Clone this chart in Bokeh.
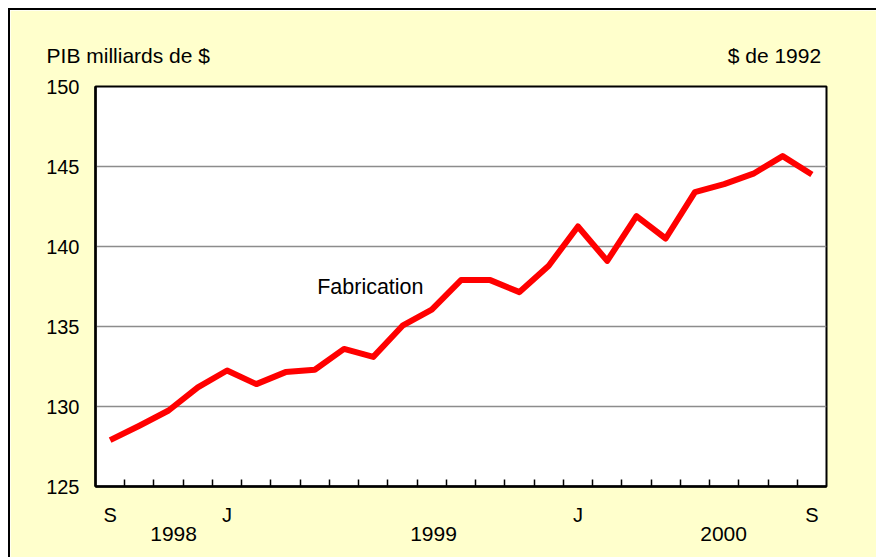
from bokeh.plotting import figure
from bokeh.models import FixedTicker, Label, Range1d, ColumnDataSource, LinearAxis
from bokeh.embed import file_html
from bokeh.resources import INLINE

# ---- data ----
months = ["S", "O", "N", "D",
          "J", "F", "M", "A", "M", "J", "J", "A", "S", "O", "N", "D",
          "J", "F", "M", "A", "M", "J", "J", "A", "S"]
gdp = [127.9, 128.8, 129.75, 131.2,
       132.25, 131.4, 132.15, 132.3, 133.6, 133.1, 135.05, 136.05,
       137.9, 137.9, 137.15, 138.8,
       141.25, 139.1, 141.9, 140.5, 143.4, 143.9, 144.55, 145.65, 144.5]
y_ticks = [125, 130, 135, 140, 145, 150]
labeled_months = [0, 4, 16, 24]          # indices of months whose letter is shown
years = ["1998", "1999", "2000"]
series_name = "Fabrication"
y_title = "PIB milliards de $"
unit_note = "$ de 1992"

# ---- layout constants ----
FONT = "Liberation Sans"
BG = "#FFFFCC"
year_pos = [2.67, 11.56, 21.48]          # centre of each year label (category units)
header_pos = [1.12, 23.22]               # centre of the two header texts (category units)
series_label_pos = (9.4, 137.5)

n = len(months)
xs = [i + 0.5 for i in range(n)]
src = ColumnDataSource(dict(x=xs, y=gdp))

p = figure(width=868, height=549, output_backend="svg", toolbar_location=None,
           x_range=Range1d(0, n), y_range=Range1d(y_ticks[0], y_ticks[-1]),
           min_border_left=85, min_border_right=52, min_border_top=76, min_border_bottom=73)
p.styles = {"margin-left": "8px", "margin-top": "7.5px",
            "border-left": "2.5px solid #000", "border-top": "2.5px solid #000"}
p.background_fill_color = "white"
p.border_fill_color = BG
p.outline_line_color = "black"
p.outline_line_width = 2

# y axis
p.yaxis.ticker = FixedTicker(ticks=y_ticks, minor_ticks=[])
p.yaxis.major_tick_in = 0
p.yaxis.major_tick_out = 0
p.yaxis.axis_line_color = "black"
p.yaxis.axis_line_width = 2.5
p.yaxis.major_label_text_font = FONT
p.yaxis.major_label_text_font_size = "20px"
p.yaxis.major_label_text_color = "black"
p.yaxis.major_label_standoff = 16

# x axis: letters at category centres, ticks at category boundaries
p.xaxis.ticker = FixedTicker(ticks=[xs[i] for i in labeled_months],
                             minor_ticks=list(range(1, n)))
p.xaxis.major_label_overrides = {xs[i]: months[i] for i in labeled_months}
p.xaxis.major_tick_in = 0
p.xaxis.major_tick_out = 0
p.xaxis.minor_tick_in = 7
p.xaxis.minor_tick_out = 0
p.xaxis.minor_tick_line_color = "black"
p.xaxis.minor_tick_line_width = 1.5
p.xaxis.axis_line_color = "black"
p.xaxis.axis_line_width = 2.5
p.xaxis.major_label_text_font = FONT
p.xaxis.major_label_text_font_size = "20px"
p.xaxis.major_label_text_color = "black"
p.xaxis.major_label_standoff = 17

# second bottom axis carrying the years
year_axis = LinearAxis(ticker=FixedTicker(ticks=year_pos, minor_ticks=[]),
                       major_label_overrides={xp: yr for xp, yr in zip(year_pos, years)},
                       axis_line_color=None, major_tick_line_color=None,
                       minor_tick_line_color=None, major_label_standoff=-8,
                       major_label_text_font=FONT, major_label_text_font_size="21px",
                       major_label_text_color="black")
p.add_layout(year_axis, "below")

# top axis carrying the header texts
head_axis = LinearAxis(ticker=FixedTicker(ticks=header_pos, minor_ticks=[]),
                       major_label_overrides={header_pos[0]: y_title, header_pos[1]: unit_note},
                       axis_line_color=None, major_tick_line_color=None,
                       minor_tick_line_color=None, major_label_standoff=14,
                       major_label_text_font=FONT, major_label_text_font_size="21px",
                       major_label_text_color="black")
p.add_layout(head_axis, "above")

# grid
p.xgrid.grid_line_color = None
p.ygrid.ticker = FixedTicker(ticks=y_ticks[1:-1])
p.ygrid.grid_line_color = "#8c8c8c"
p.ygrid.grid_line_width = 1.5

# series
p.line("x", "y", source=src, line_color="#FF0000", line_width=6, line_join="round")

p.add_layout(Label(x=series_label_pos[0], y=series_label_pos[1], text=series_name,
                   text_font=FONT, text_font_size="21.5px", text_color="black",
                   text_align="center", text_baseline="middle"))

open("out.html", "w").write(file_html(p, INLINE))
